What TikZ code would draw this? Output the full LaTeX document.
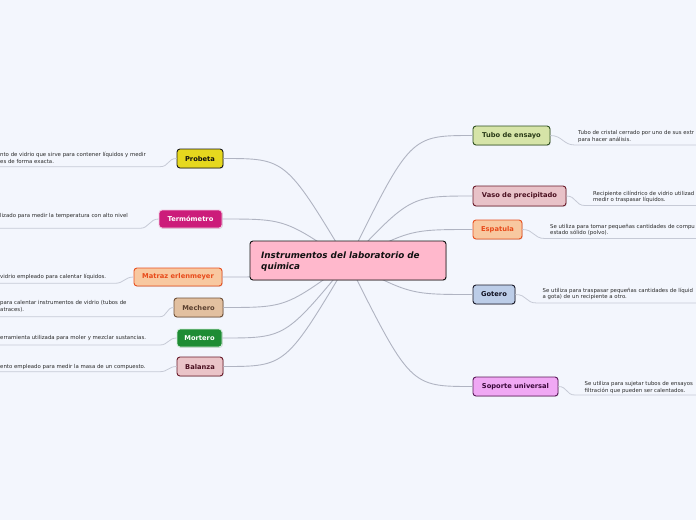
\documentclass[tikz,border=0pt]{standalone}
\usepackage{fontspec}
\setmainfont{DejaVu Sans}
\usetikzlibrary{shadows,calc}
\definecolor{bg}{HTML}{F3F6FD}
\definecolor{linec}{HTML}{B0B4C2}
\definecolor{dlinec}{HTML}{C6CAD6}
\definecolor{desctext}{HTML}{2A2A2A}
\definecolor{cA}{HTML}{E6D81E}\definecolor{cB}{HTML}{1A1A1A}\definecolor{cC}{HTML}{111111}
\definecolor{cD}{HTML}{CC1C7A}\definecolor{cE}{HTML}{F2C8E0}
\definecolor{cF}{HTML}{F8C8A0}\definecolor{cG}{HTML}{E85020}\definecolor{cH}{HTML}{E84A1A}
\definecolor{cI}{HTML}{E2C0A0}\definecolor{cJ}{HTML}{6E5038}\definecolor{cK}{HTML}{5A4030}
\definecolor{cL}{HTML}{1E8C34}\definecolor{cM}{HTML}{D0ECD8}
\definecolor{cN}{HTML}{EAC4C8}\definecolor{cO}{HTML}{6A1A2A}\definecolor{cP}{HTML}{4A1020}
\definecolor{cQ}{HTML}{D6E4A8}\definecolor{cR}{HTML}{2E5020}\definecolor{cS}{HTML}{2A3A18}
\definecolor{cT}{HTML}{E8C2C8}
\definecolor{cU}{HTML}{BCCDE8}\definecolor{cV}{HTML}{1A1A2A}\definecolor{cW}{HTML}{101020}
\definecolor{cX}{HTML}{F0A8F4}\definecolor{cY}{HTML}{5A1A5A}\definecolor{cZ}{HTML}{3A0A3A}
\definecolor{cCent}{HTML}{FFB8CC}
\tikzset{
  mnode/.style={draw, rounded corners=3pt, line width=0.9pt, minimum height=19pt, inner sep=0pt,
    font=\fontsize{6.7}{7}\selectfont\bfseries,
    drop shadow={shadow xshift=0.8pt,shadow yshift=-0.8pt,opacity=0.25}},
  conn/.style={draw=linec, line width=0.9pt},
  dline/.style={draw=dlinec, line width=0.8pt},
  desc/.style={anchor=north west, inner sep=0pt, align=left, font=\fontsize{5.4}{6.4}\selectfont, text=desctext}
}
\begin{document}
\begin{tikzpicture}[x=1pt,y=-1pt]
\useasboundingbox (0,0) rectangle (696,520);
\clip (0,0) rectangle (696,520);
\fill[bg] (0,0) rectangle (696,520);
\coordinate (hub) at (348,262);

% nodes
\node[mnode, fill=cA, draw=cB, text=cC, minimum width=46pt] (probeta) at (200,158.5) {Probeta};
\node[mnode, fill=cD, draw=cE, text=white, minimum width=63pt, minimum height=18pt] (termo) at (190.5,219) {Termómetro};
\node[mnode, fill=cF, draw=cG, text=cH, minimum width=88pt, minimum height=18pt] (matraz) at (178,277) {Matraz erlenmeyer};
\node[mnode, fill=cI, draw=cJ, text=cK, minimum width=49pt] (mechero) at (198.5,307.5) {Mechero};
\node[mnode, fill=cL, draw=cM, text=white, minimum width=45pt, minimum height=18pt] (mortero) at (199.5,338) {Mortero};
\node[mnode, fill=cN, draw=cO, text=cP, minimum width=46pt] (balanza) at (200,366.5) {Balanza};

\node[mnode, fill=cQ, draw=cR, text=cS, minimum width=77pt] (tubo) at (511.5,135.5) {Tubo de ensayo};
\node[mnode, fill=cT, draw=cO, text=cP, minimum width=93pt, minimum height=20pt] (vaso) at (519.5,196) {Vaso de precipitado};
\node[mnode, fill=cF, draw=cG, text=cH, minimum width=49pt] (espatula) at (497.5,229.5) {Espatula};
\node[mnode, fill=cU, draw=cV, text=cW, minimum width=42pt] (gotero) at (494,294.5) {Gotero};
\node[mnode, fill=cX, draw=cY, text=cZ, minimum width=85pt] (soporte) at (515.5,386.5) {Soporte universal};

% connectors from centre
\foreach \n in {probeta,termo,matraz,mechero,mortero,balanza}{
  \draw[conn] (\n.east) .. controls ($(\n.east)!0.5!(\n.east -| hub)$) .. (hub);
}
\foreach \n in {tubo,vaso,espatula,gotero,soporte}{
  \draw[conn] (\n.west) .. controls ($(\n.west)!0.5!(\n.west -| hub)$) .. (hub);
}

% centre node
\node[draw=cC, fill=cCent, rounded corners=3pt, line width=0.9pt, minimum width=196pt, minimum height=39pt, inner sep=0pt,
  drop shadow={shadow xshift=0.8pt,shadow yshift=-0.8pt,opacity=0.25}] (center) at (348,260.5) {};
\node[anchor=north west, inner sep=0pt, align=left, font=\fontsize{8.8}{11}\selectfont\bfseries\itshape, text=cC] (ctext) at (261,251.5) {Instrumentos del laboratorio de\\quimica};

% description coordinates
\coordinate (pd) at (160,166.7); \coordinate (pd0) at (0,166.7);
\coordinate (td) at (140,228.3); \coordinate (td0) at (0,228.3);
\coordinate (md) at (115,283.3); \coordinate (md0) at (0,283.3);
\coordinate (med) at (160,316.7); \coordinate (med0) at (0,316.7);
\coordinate (mod) at (160,345); \coordinate (mod0) at (0,345);
\coordinate (bd) at (160,371.7); \coordinate (bd0) at (0,371.7);
\coordinate (tud) at (575,145); \coordinate (tud1) at (696,145);
\coordinate (vd) at (585,205.5); \coordinate (vd1) at (696,205.5);
\coordinate (ed) at (545,238.5); \coordinate (ed1) at (696,238.5);
\coordinate (gd) at (537,303); \coordinate (gd1) at (696,303);
\coordinate (sd) at (575,395); \coordinate (sd1) at (696,395);

\draw[dline] (probeta.west) .. controls +(-9,0) and +(9,0) .. (pd) -- (pd0);
\draw[dline] (termo.west) .. controls +(-9,0) and +(9,0) .. (td) -- (td0);
\draw[dline] (matraz.west) .. controls +(-9,0) and +(9,0) .. (md) -- (md0);
\draw[dline] (mechero.west) .. controls +(-7,0) and +(7,0) .. (med) -- (med0);
\draw[dline] (mortero.west) .. controls +(-8,0) and +(8,0) .. (mod) -- (mod0);
\draw[dline] (balanza.west) .. controls +(-8,0) and +(8,0) .. (bd) -- (bd0);
\draw[dline] (tubo.east) .. controls +(12,0) and +(-12,0) .. (tud) -- (tud1);
\draw[dline] (vaso.east) .. controls +(10,0) and +(-10,0) .. (vd) -- (vd1);
\draw[dline] (espatula.east) .. controls +(12,0) and +(-12,0) .. (ed) -- (ed1);
\draw[dline] (gotero.east) .. controls +(12,0) and +(-12,0) .. (gd) -- (gd1);
\draw[dline] (soporte.east) .. controls +(9,0) and +(-9,0) .. (sd) -- (sd1);

% descriptions
\node[desc] (pt) at (0,152.4) {nto de vidrio que sirve para contener líquidos y medir\\es de forma exacta.};
\node[desc] (tt) at (0,213.0) {lizado para medir la temperatura con alto nivel};
\node[desc] (mt) at (0,274.0) {vidrio empleado para calentar líquidos.};
\node[desc] (met) at (0,300.6) {para calentar instrumentos de vidrio (tubos de\\atraces).};
\node[desc] (mot) at (0,335.6) {erramienta utilizada para moler y mezclar sustancias.};
\node[desc] (bt) at (0,364.0) {ento empleado para medir la masa de un compuesto.};
\node[desc] (tut) at (578,130.6) {Tubo de cristal cerrado por uno de sus extr\\para hacer análisis.};
\node[desc] (vt) at (593,190.6) {Recipiente cilíndrico de vidrio utilizad\\medir o traspasar líquidos.};
\node[desc] (et) at (550,224.0) {Se utiliza para tomar pequeñas cantidades de compu\\estado sólido (polvo).};
\node[desc] (gt) at (542.5,288.0) {Se utiliza para traspasar pequeñas cantidades de líquid\\a gota) de un recipiente a otro.};
\node[desc] (st) at (584.5,381.3) {Se utiliza para sujetar tubos de ensayos\\filtración que pueden ser calentados.};
\end{tikzpicture}
\end{document}
